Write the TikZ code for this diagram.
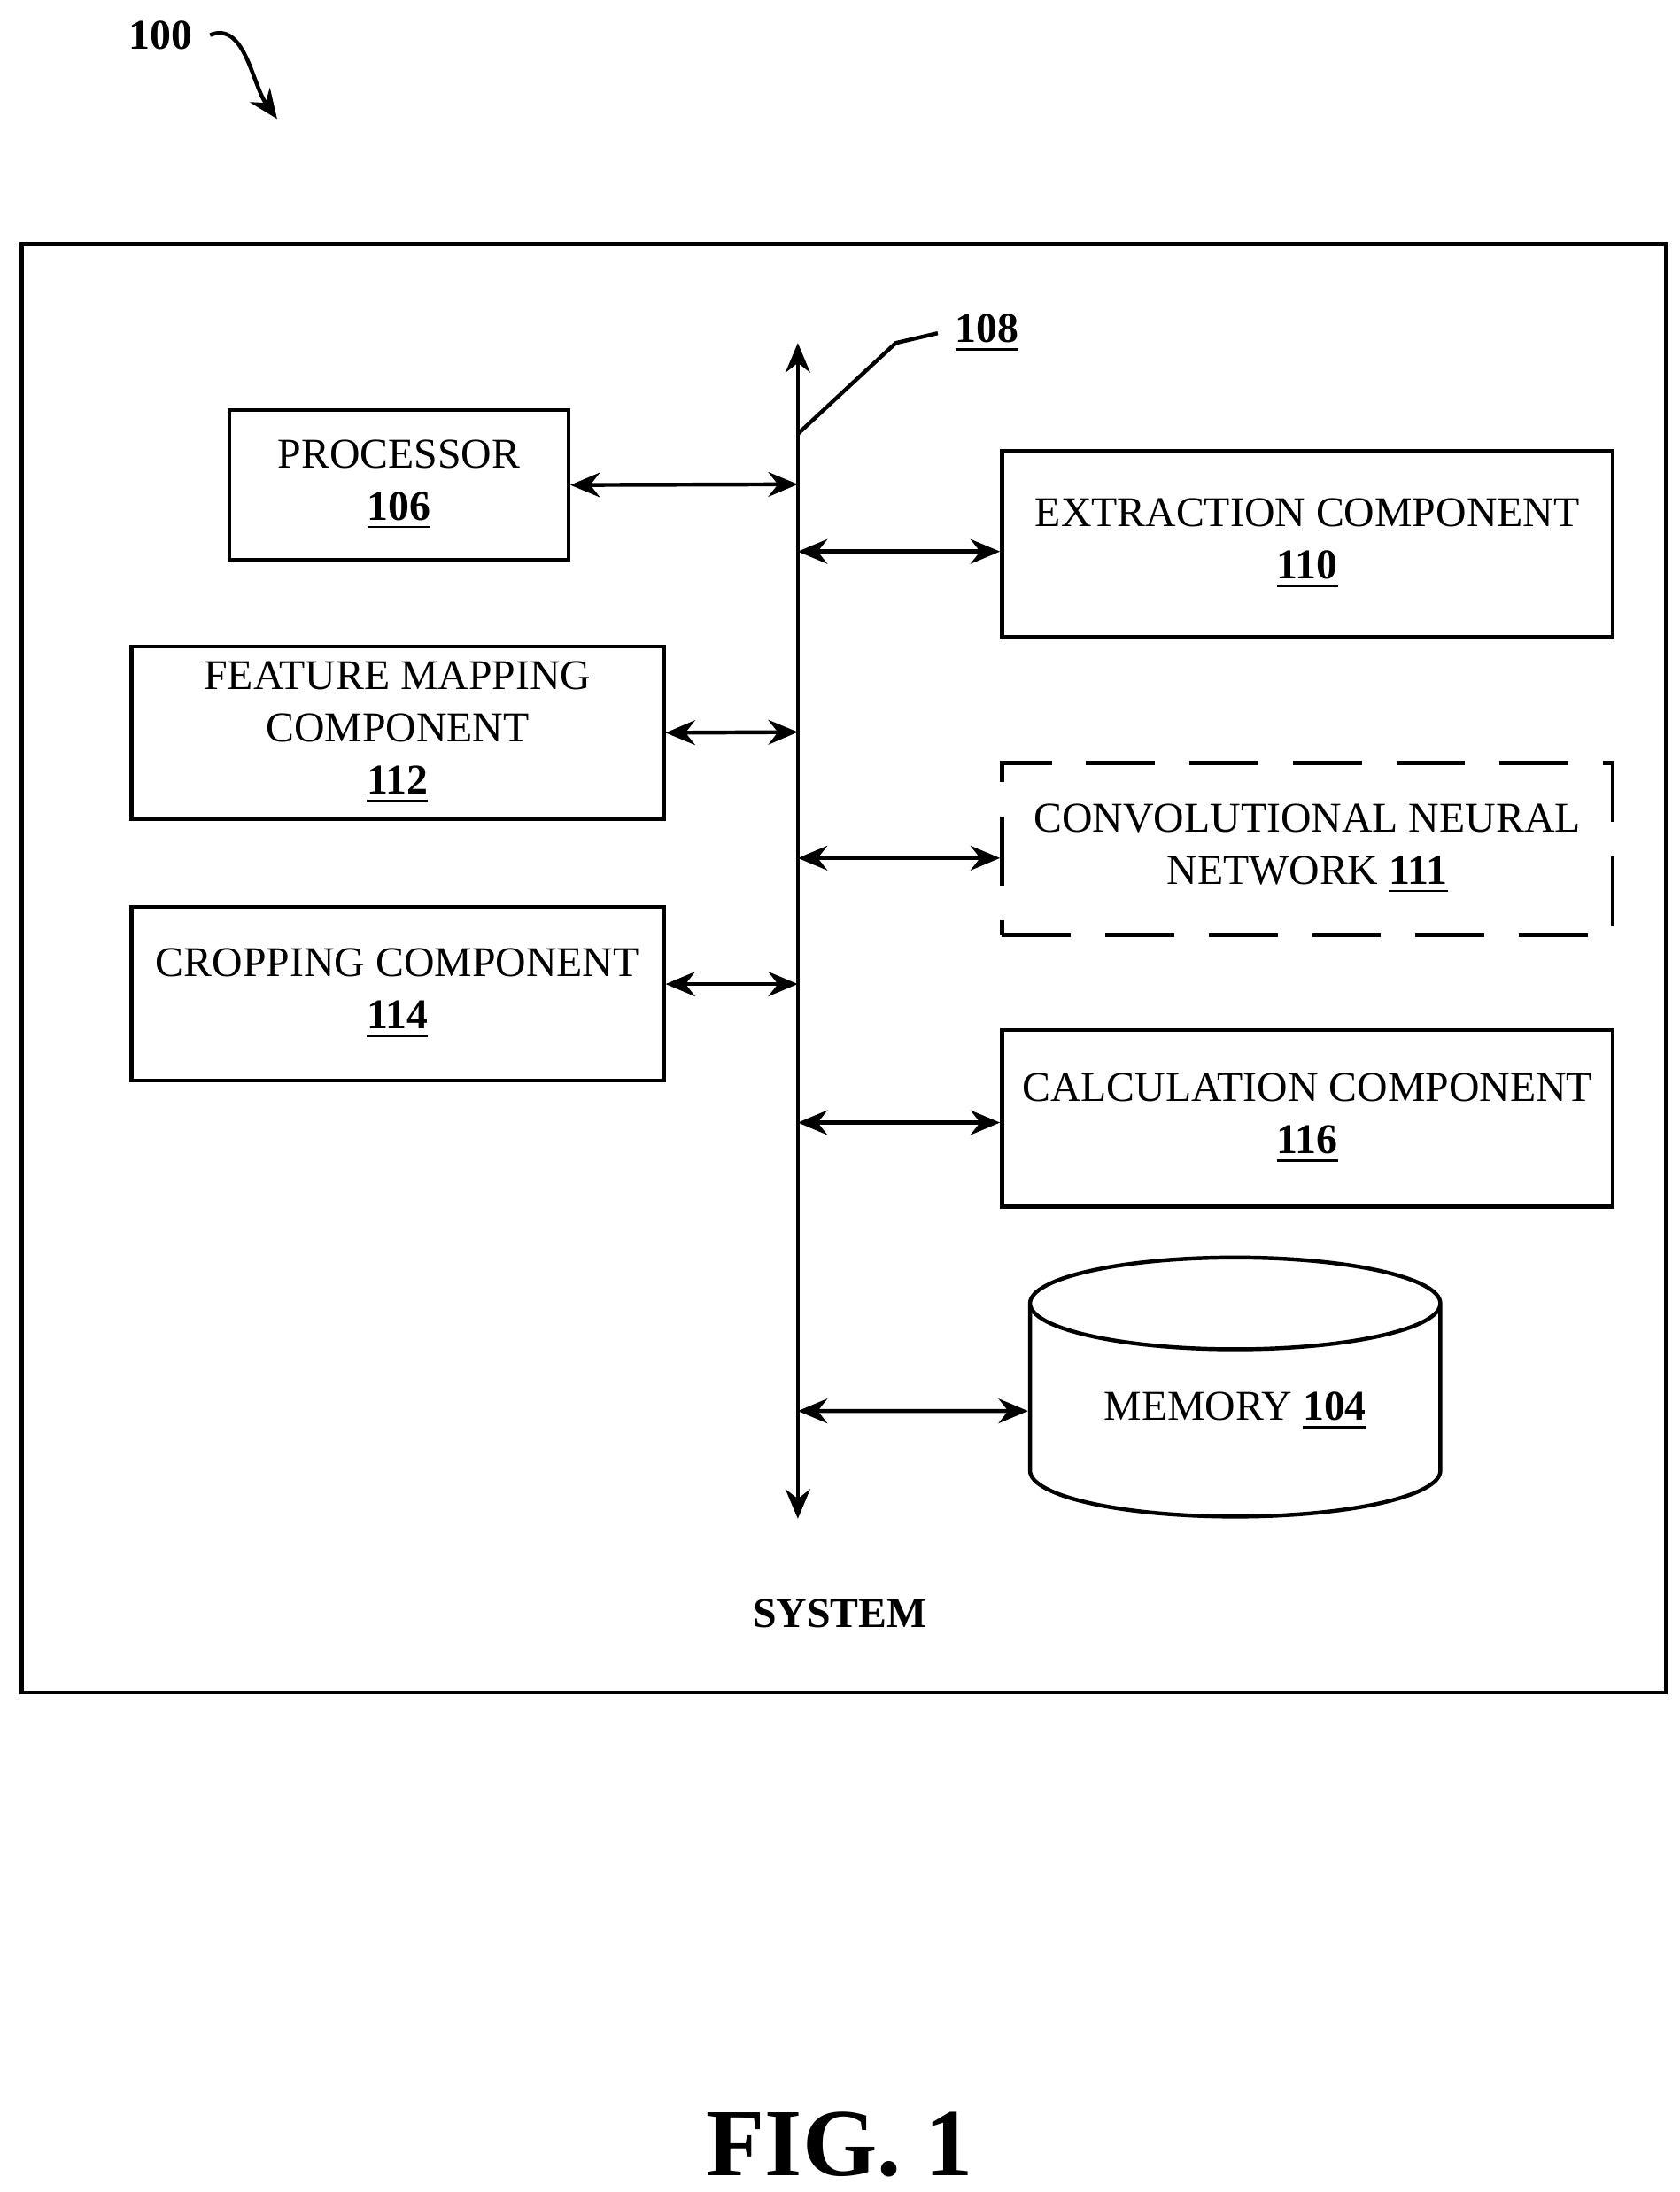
\documentclass[tikz,border=0pt]{standalone}
\usepackage{fontspec}
\setmainfont{Liberation Serif}
\usetikzlibrary{shapes.geometric, arrows.meta}
\tikzset{
    comp/.style={draw, thick, align=center, inner sep=0pt, font=\fontsize{8.6}{10.6}\selectfont},
    link/.style={thick, {Stealth[length=6pt,width=5pt]}-{Stealth[length=6pt,width=5pt]}},
}
\begin{document}
\begin{tikzpicture}[x=0.01cm, y=-0.01cm]
    \useasboundingbox (0,0) rectangle (1200,1566);
    \node[draw, thick, minimum width=11.74cm, minimum height=10.34cm, anchor=north west](system) at (14,173) {};
    \node[font=\bfseries\fontsize{8.6}{10}\selectfont](syslabel) at (600,1153) {SYSTEM};
    \node[font=\bfseries\fontsize{19.5}{22}\selectfont](fig) at (600,1532) {FIG. 1};

    % bus
    \coordinate (bustop) at (570,245);
    \coordinate (busbot) at (570,1085);
    \draw[link] (busbot) -- (bustop);
    \coordinate (b108) at (570,310);
    \node[font=\bfseries\fontsize{8.6}{10}\selectfont, anchor=west](l108) at (670,238) {\underline{108}};
    \draw[thick] (b108) -- (640,245) -- (l108.west);

    % reference number
    \node[font=\bfseries\fontsize{8.6}{10}\selectfont](l100) at (115,25) {100};
    \coordinate (p100) at (198,85);
    \draw[thick, -{Stealth[length=6pt,width=5pt]}] (l100.east) .. controls (175,15) and (180,60) .. (p100);

    % components
    \node[comp, minimum width=2.42cm, minimum height=1.07cm](proc) at (285,346.5) {PROCESSOR\\\textbf{\underline{106}}};
    \node[comp, minimum width=4.36cm, minimum height=1.33cm](extr) at (934,388.5) {EXTRACTION COMPONENT\\\textbf{\underline{110}}};
    \node[comp, minimum width=3.8cm, minimum height=1.23cm](feat) at (284,523.5) {FEATURE MAPPING\\COMPONENT\\\textbf{\underline{112}}};
    \node[comp, dashed, dash pattern=on 14pt off 7pt, minimum width=4.36cm, minimum height=1.23cm](cnn) at (934,606.5) {CONVOLUTIONAL NEURAL\\NETWORK \textbf{\underline{111}}};
    \node[comp, minimum width=3.8cm, minimum height=1.24cm](crop) at (284,710) {CROPPING COMPONENT\\\textbf{\underline{114}}};
    \node[comp, minimum width=4.36cm, minimum height=1.26cm](calc) at (934,799) {CALCULATION COMPONENT\\\textbf{\underline{116}}};
    \node[comp, cylinder, shape border rotate=90, aspect=0.35, minimum width=2.93cm, minimum height=1.85cm](mem) at (882.5,1008) {MEMORY \textbf{\underline{104}}};

    % connectors
    \draw[link] (proc.east) -- (570,346);
    \draw[link] (570,394) -- (extr.west |- 570,394);
    \draw[link] (feat.east) -- (570,523);
    \draw[link] (570,613) -- (cnn.west |- 570,613);
    \draw[link] (crop.east |- 570,703) -- (570,703);
    \draw[link] (570,802) -- (calc.west |- 570,802);
    \draw[link] (570,1008) -- (mem.west);
\end{tikzpicture}
\end{document}
